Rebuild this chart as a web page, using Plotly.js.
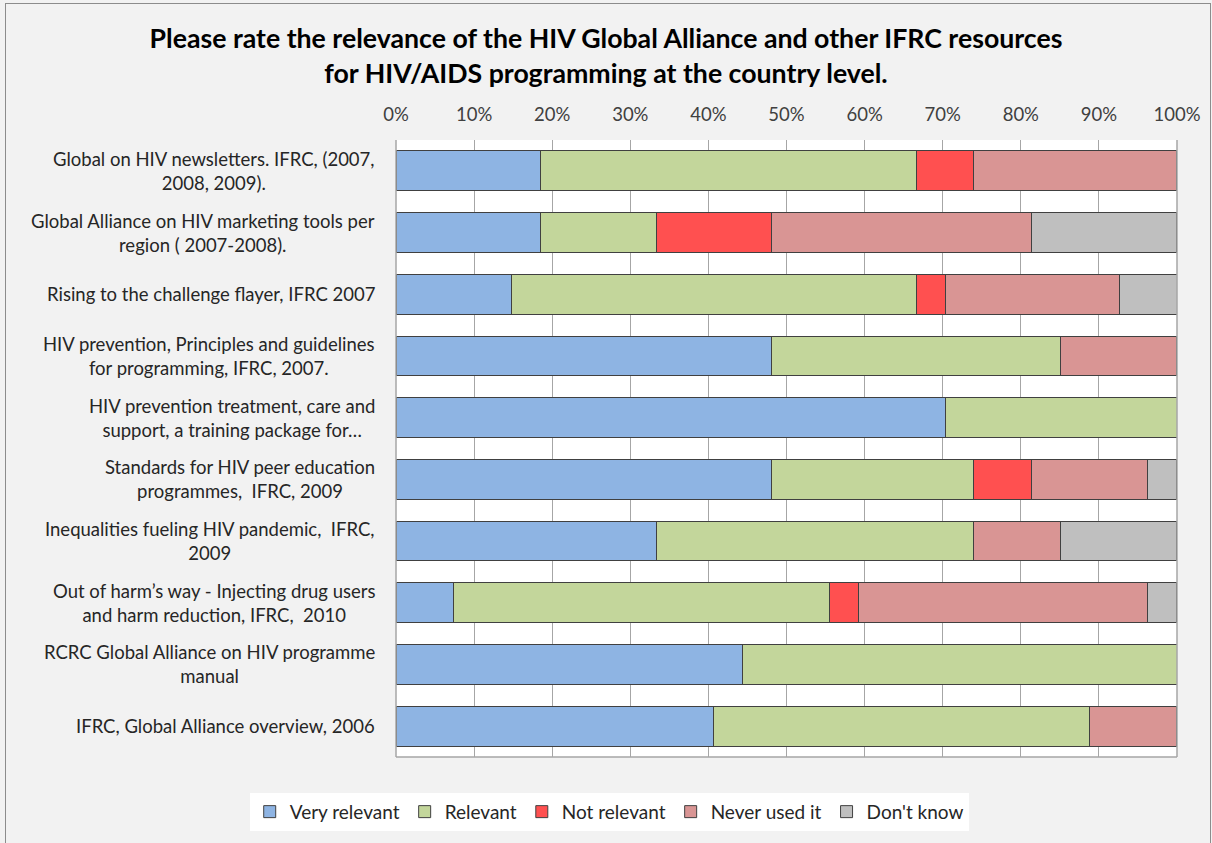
<!DOCTYPE html>
<html>
<head>
<meta charset="utf-8">
<script src="https://cdn.plot.ly/plotly-3.0.1.min.js"></script>
<style>
  html, body { margin: 0; padding: 0; background: #ffffff; }
  #wrap { position: relative; width: 1212px; height: 843px; overflow: hidden; }
  #chart { position: absolute; left: 0; top: 0; width: 1212px; height: 843px; }
  #frame { position: absolute; left: 5px; top: 3px; width: 1204px; height: 860px;
           border: 1px solid #8c8c8c; pointer-events: none; }
</style>
</head>
<body>
<div id="wrap">
  <div id="chart"></div>
  <div id="frame"></div>
</div>
<script>
// Categories (top to bottom)
const categories = [
  "Global on HIV newsletters. IFRC, (2007,<br>2008, 2009).",
  "Global Alliance on HIV marketing tools per<br>region ( 2007-2008).",
  "Rising to the challenge flayer, IFRC 2007",
  "HIV prevention, Principles and guidelines<br>for programming, IFRC, 2007.",
  "HIV prevention treatment, care and<br>support, a training package for…",
  "Standards for HIV peer education<br>programmes,  IFRC, 2009",
  "Inequalities fueling HIV pandemic,  IFRC,<br>2009",
  "Out of harm’s way - Injecting drug users<br>and harm reduction, IFRC,  2010",
  "RCRC Global Alliance on HIV programme<br>manual",
  "IFRC, Global Alliance overview, 2006"
];

// Series values (percent of respondents)
const veryRelevant = [18.5, 18.5, 14.8, 48.1, 70.4, 48.1, 33.3, 7.4, 44.4, 40.7];
const relevant     = [48.1, 14.8, 51.9, 37.0, 29.6, 25.9, 40.7, 48.1, 55.6, 48.1];
const notRelevant  = [7.4, 14.8, 3.7, 0, 0, 7.4, 0, 3.7, 0, 0];
const neverUsed    = [25.9, 33.3, 22.2, 14.8, 0, 14.8, 11.1, 37.0, 0, 11.1];
const dontKnow     = [0, 18.5, 7.4, 0, 0, 3.7, 14.8, 3.7, 0, 0];

const seriesNames = ["Very relevant", "Relevant", "Not relevant", "Never used it", "Don't know"];
const seriesValues = [veryRelevant, relevant, notRelevant, neverUsed, dontKnow];
const seriesColors = ["#8EB4E3", "#C3D69B", "#FF5050", "#D99594", "#BFBFBF"];

const titleText = "Please rate the relevance of the HIV Global Alliance and other IFRC resources<br>for HIV/AIDS programming at the country level.";

const FONT = "Lato, 'Liberation Sans', sans-serif";

const traces = seriesNames.map((name, i) => ({
  type: "bar",
  orientation: "h",
  name: name,
  y: categories,
  x: seriesValues[i],
  marker: { color: seriesColors[i], line: { color: "#404040", width: 1 } },
  hoverinfo: "x+name"
}));

const annotations = categories.map(c => ({
  xref: "paper", yref: "y",
  x: -0.024, y: c,
  xanchor: "right", yanchor: "middle",
  align: "center",
  text: c,
  showarrow: false,
  font: { family: FONT, size: 18.5, color: "#262626" }
}));

const layout = {
  width: 1212, height: 843,
  paper_bgcolor: "#f2f2f2",
  plot_bgcolor: "#ffffff",
  barmode: "stack",
  bargap: 0.355,
  margin: { l: 396, r: 35, t: 140, b: 83 },
  title: {
    text: titleText,
    font: { family: FONT, size: 26.7, color: "#000000", weight: "bold" },
    x: 0.5, xref: "container", xanchor: "center",
    y: 0.943, yref: "container", yanchor: "top"
  },
  xaxis: {
    side: "top",
    range: [0, 100],
    dtick: 10,
    ticksuffix: "%",
    showgrid: true,
    gridcolor: "#a6a6a6",
    gridwidth: 1,
    zeroline: false,
    showline: false,
    ticks: "outside",
    ticklen: 11,
    tickcolor: "rgba(0,0,0,0)",
    tickfont: { family: FONT, size: 18.5, color: "#404040" },
    fixedrange: true
  },
  yaxis: {
    autorange: "reversed",
    showticklabels: false,
    showgrid: false,
    zeroline: false,
    showline: false,
    ticks: "",
    fixedrange: true
  },
  shapes: [
    { type: "line", xref: "paper", yref: "paper", x0: 0, x1: 0, y0: 0, y1: 1, line: { color: "#a6a6a6", width: 1.5 } },
    { type: "line", xref: "paper", yref: "paper", x0: 1, x1: 1, y0: 0, y1: 1, line: { color: "#a6a6a6", width: 1.5 } },
    { type: "line", xref: "paper", yref: "paper", x0: 0, x1: 1, y0: 0, y1: 0, line: { color: "#a6a6a6", width: 1.5 } }
  ],
  annotations: annotations,
  showlegend: true,
  legend: {
    orientation: "h",
    x: 0.273, xref: "paper", xanchor: "center",
    y: -0.058, yref: "paper", yanchor: "top",
    bgcolor: "#ffffff",
    borderwidth: 0,
    font: { family: FONT, size: 19, color: "#262626" },
    traceorder: "normal",
    itemwidth: 30,
    entrywidth: 0
  }
};

Plotly.newPlot("chart", traces, layout, { displayModeBar: false, staticPlot: true });
</script>
</body>
</html>
